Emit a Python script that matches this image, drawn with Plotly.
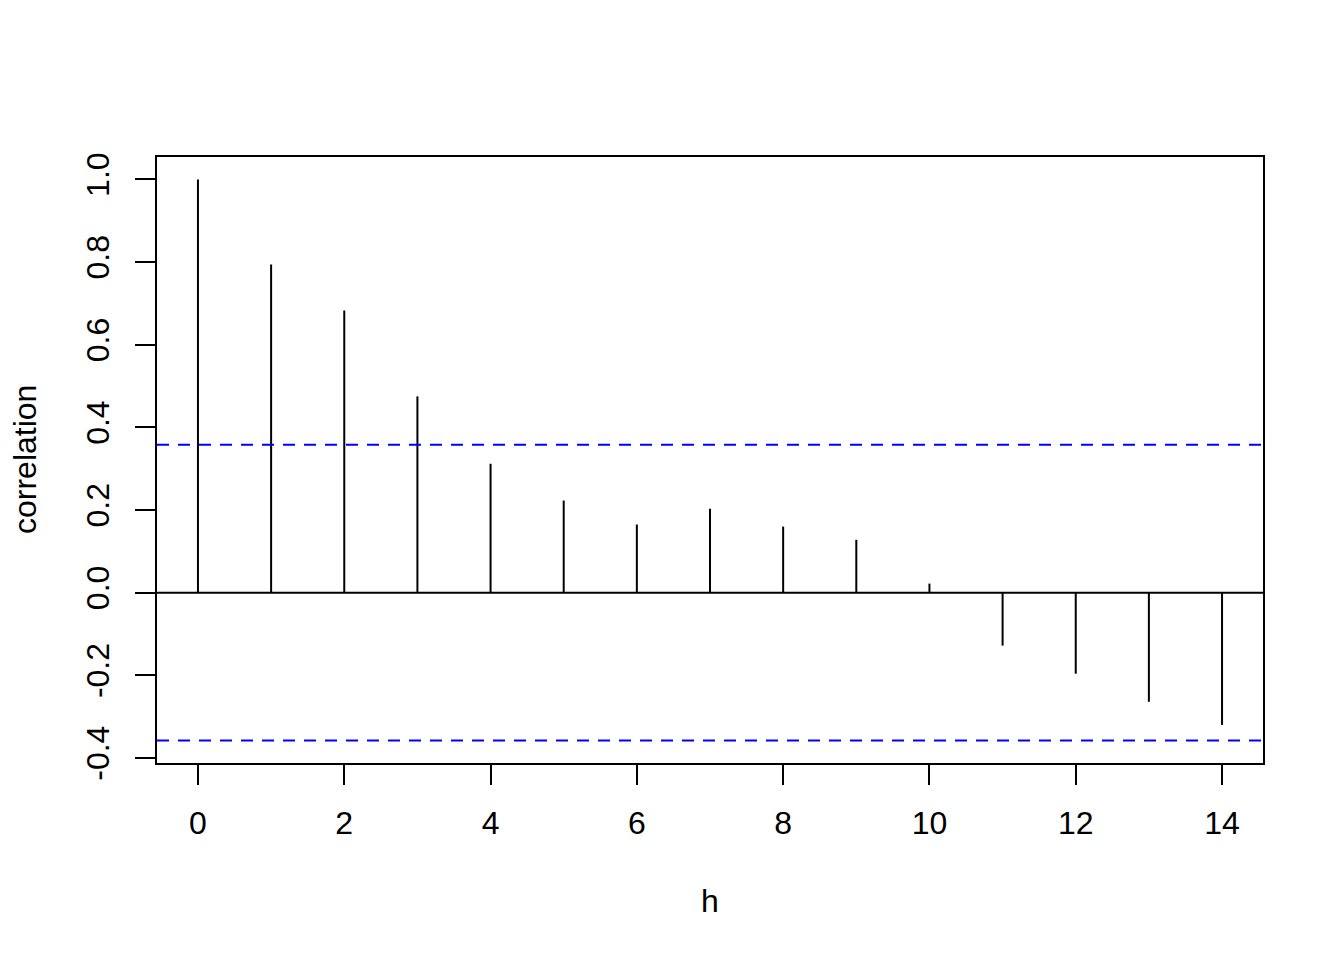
import plotly.graph_objects as go

# Data
lags = [0, 1, 2, 3, 4, 5, 6, 7, 8, 9, 10, 11, 12, 13, 14]
acf_values = [1.000, 0.794, 0.683, 0.475, 0.312, 0.223, 0.165, 0.203,
              0.160, 0.128, 0.022, -0.128, -0.196, -0.264, -0.320]
ci_limit = 0.3578
x_ticks = [0, 2, 4, 6, 8, 10, 12, 14]
y_ticks = [-0.4, -0.2, 0.0, 0.2, 0.4, 0.6, 0.8, 1.0]
y_tick_labels = ["-0.4", "-0.2", "0.0", "0.2", "0.4", "0.6", "0.8", "1.0"]

xs, ys = [], []
for h, v in zip(lags, acf_values):
    xs += [h, h, None]
    ys += [0, v, None]

FONT = "Liberation Sans, Arial, Helvetica, sans-serif"
FS = 32

fig = go.Figure()
fig.add_trace(go.Scatter(x=xs, y=ys, mode="lines",
                         line=dict(color="black", width=2),
                         hoverinfo="skip", showlegend=False))

# zero line and confidence bands spanning the full plot width
fig.add_shape(type="line", xref="paper", x0=0, x1=1, yref="y", y0=0, y1=0,
              line=dict(color="black", width=2))
for lim in (ci_limit, -ci_limit):
    fig.add_shape(type="line", xref="paper", x0=0, x1=1, yref="y", y0=lim, y1=lim,
                  line=dict(color="#0000FF", width=2, dash="12px,9px"))

span_y = (max(acf_values) + ci_limit) * 0.04
ymin = -ci_limit - span_y
ymax = max(acf_values) + span_y
span_x = (max(lags) - min(lags)) * 0.04

fig.update_xaxes(range=[min(lags) - span_x, max(lags) + span_x],
                 tickvals=x_ticks, ticktext=[str(t) for t in x_ticks],
                 ticks="outside", ticklen=20, tickwidth=2, tickcolor="black",
                 showline=True, linecolor="black", linewidth=2, mirror=True,
                 showgrid=False, zeroline=False, ticklabelstandoff=11,
                 tickfont=dict(family=FONT, size=FS, color="black"))
fig.update_yaxes(range=[ymin, ymax],
                 tickvals=y_ticks, ticktext=y_tick_labels, tickangle=-90,
                 ticks="outside", ticklen=20, tickwidth=2, tickcolor="black",
                 showline=True, linecolor="black", linewidth=2, mirror=True,
                 showgrid=False, zeroline=False, ticklabelstandoff=13,
                 tickfont=dict(family=FONT, size=FS, color="black"))

fig.add_annotation(text="correlation", xref="paper", yref="paper", x=0, y=0.5,
                   xshift=-132, textangle=-90, showarrow=False,
                   xanchor="center", yanchor="middle",
                   font=dict(family=FONT, size=FS, color="black"))
fig.add_annotation(text="h", xref="paper", yref="paper", x=0.5, y=0,
                   yshift=-138, showarrow=False,
                   xanchor="center", yanchor="middle",
                   font=dict(family=FONT, size=FS, color="black"))

fig.update_layout(width=1336, height=952,
                  margin=dict(l=149, r=81, t=149, b=197, pad=0),
                  plot_bgcolor="white", paper_bgcolor="white",
                  showlegend=False)

fig.write_html("out.html")
